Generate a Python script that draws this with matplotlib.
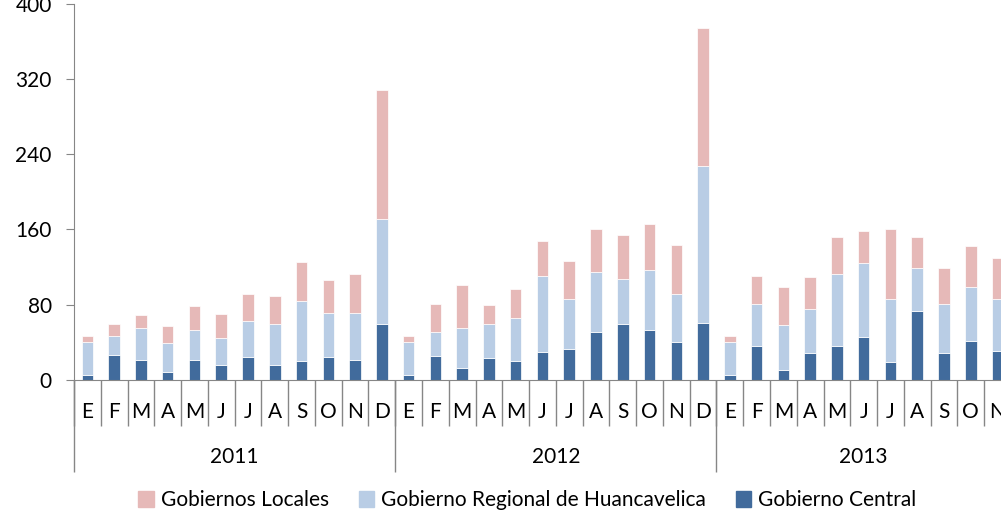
"""
Stacked monthly bars by level of government, 2011-2013.
"""

import numpy as np
import matplotlib.pyplot as plt
from matplotlib.patches import Patch

years = ["2011", "2012", "2013"]
months = ["E", "F", "M", "A", "M", "J", "J", "A", "S", "O", "N", "D"]
months_per_year = [12, 12, 11]

# Gobierno Central (bottom of stack)
central = [5, 27, 21, 9, 21, 16, 24, 16, 20, 24, 21, 60,
           5, 26, 13, 23, 20, 30, 33, 51, 59, 53, 40, 61,
           5, 36, 11, 29, 36, 46, 19, 73, 29, 41, 31]
# Gobierno Regional de Huancavelica (middle)
regional = [35, 20, 34, 30, 32, 29, 39, 44, 64, 47, 50, 111,
            35, 25, 42, 36, 46, 81, 53, 64, 48, 64, 51, 167,
            35, 45, 47, 46, 77, 78, 67, 46, 52, 58, 55]
# Gobiernos Locales (top)
locales = [7, 12, 14, 18, 26, 25, 28, 29, 41, 35, 42, 137,
           7, 30, 46, 21, 31, 37, 40, 45, 47, 49, 52, 146,
           7, 30, 41, 35, 39, 34, 75, 33, 38, 43, 44]

c_central = "#416B9C"
c_regional = "#B9CDE5"
c_locales = "#E6B9B8"
grey = "#868686"

plt.rcParams['font.family'] = ['Lato', 'DejaVu Sans']

fig = plt.figure(figsize=(10.01, 5.12), dpi=100)
ax = fig.add_axes([0.0739, 0.2578, 0.936, 0.735])

central = np.array(central)
regional = np.array(regional)
locales = np.array(locales)
x = np.arange(len(central))
w = 0.43
ax.bar(x, central, w, color=c_central, edgecolor="white", linewidth=0.5)
ax.bar(x, regional, w, bottom=central, color=c_regional, edgecolor="white", linewidth=0.5)
ax.bar(x, locales, w, bottom=central + regional, color=c_locales, edgecolor="white", linewidth=0.5)

ax.set_xlim(-0.5, len(x) - 0.5)
ax.set_ylim(0, 400)
ax.set_yticks(np.arange(0, 401, 80))
ax.tick_params(axis="y", length=6, color=grey, labelsize=15, pad=10)
ax.set_xticks([])

for side in ["top", "right"]:
    ax.spines[side].set_visible(False)
ax.spines["left"].set_color(grey)
ax.spines["bottom"].set_color(grey)

# category axis: month separators and labels, then year groups
trans = ax.get_xaxis_transform()
ax_h = ax.get_position().height * fig.get_figheight() * fig.dpi
month_len = 46 / ax_h
year_len = 92 / ax_h

month_labels = []
for n in months_per_year:
    month_labels += months[:n]
ax.vlines(np.arange(len(x) + 1) - 0.5, -month_len, 0, transform=trans,
          color=grey, lw=1, clip_on=False)
for i, lab in enumerate(month_labels):
    ax.text(i, -32 / ax_h, lab, transform=trans, ha="center", va="center",
            fontsize=15)

start = 0
for year, n in zip(years, months_per_year):
    ax.vlines(start - 0.5, -year_len, 0, transform=trans, color=grey, lw=1,
              clip_on=False)
    ax.text(start + (n - 1) / 2, -77 / ax_h, year, transform=trans,
            ha="center", va="center", fontsize=15)
    start += n

handles = [Patch(color=c_locales, label="Gobiernos Locales"),
           Patch(color=c_regional, label="Gobierno Regional de Huancavelica"),
           Patch(color=c_central, label="Gobierno Central")]
fig.legend(handles=handles, loc="center", bbox_to_anchor=(0.527, 0.023),
           ncol=3, frameon=False, fontsize=15, handlelength=0.75,
           handleheight=0.75, handletextpad=0.35, columnspacing=1.4)

fig.savefig("out.png", dpi=100)
